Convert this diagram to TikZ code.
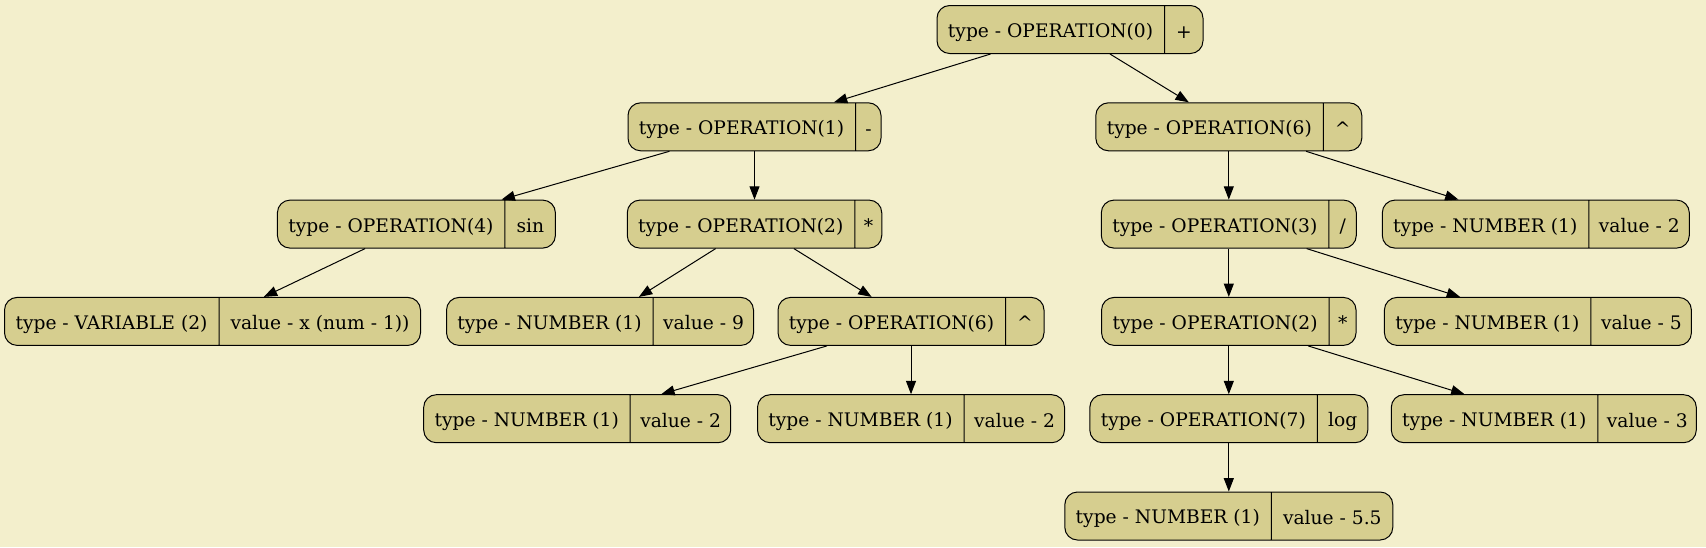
\documentclass[tikz,border=0pt]{standalone}
\usepackage{fontspec}
\setmainfont{DejaVu Serif}
\usetikzlibrary{shapes.multipart,arrows.meta}
\definecolor{bgyellow}{HTML}{F3EFCC}
\definecolor{nodekhaki}{HTML}{D6CE8F}
\newdimen\pxu \pxu=0.75pt
\newcommand{\fld}[2]{\makebox[#1\pxu]{\raisebox{-2.2pt}[\height][\depth]{\vphantom{()}#2}}}

\begin{document}
\begin{tikzpicture}[
            x=0.75pt, y=-0.75pt,
            rec/.style={draw, fill=nodekhaki, rounded corners=9.5pt, rectangle split, rectangle split horizontal, rectangle split parts=2, inner xsep=0pt, inner ysep=0pt, minimum height=36pt, line width=0.75pt, font=\fontsize{14}{16}\selectfont},
            edge/.style={-{Triangle[length=10pt,width=7.5pt]}, line width=0.75pt}
        ]
        \fill[bgyellow] (0,0) rectangle (1706,547);

        % Nodes
        \node[rec] (plus) at (1070,29.5) {\fld{227}{type - OPERATION(0)}\nodepart{two}\fld{38}{+}};
        \node[rec] (minus) at (754.5,126.8) {\fld{227}{type - OPERATION(1)}\nodepart{two}\fld{25}{-}};
        \node[rec] (powA) at (1228.8,126.8) {\fld{227}{type - OPERATION(6)}\nodepart{two}\fld{38}{\textasciicircum}};
        \node[rec] (sin) at (416.4,224.1) {\fld{227}{type - OPERATION(4)}\nodepart{two}\fld{50}{sin}};
        \node[rec] (mulA) at (754.5,224.1) {\fld{227}{type - OPERATION(2)}\nodepart{two}\fld{26.5}{*}};
        \node[rec] (div) at (1228.8,224.1) {\fld{227}{type - OPERATION(3)}\nodepart{two}\fld{27}{/}};
        \node[rec] (numTwoA) at (1535.8,224.1) {\fld{206}{type - NUMBER (1)}\nodepart{two}\fld{100}{value - 2}};
        \node[rec] (var) at (212.5,321.4) {\fld{214}{type - VARIABLE (2)}\nodepart{two}\fld{201}{value - x (num - 1))}};
        \node[rec] (numNine) at (600,321.4) {\fld{206}{type - NUMBER (1)}\nodepart{two}\fld{100}{value - 9}};
        \node[rec] (powB) at (911,321.4) {\fld{227}{type - OPERATION(6)}\nodepart{two}\fld{38}{\textasciicircum}};
        \node[rec] (mulB) at (1228.8,321.4) {\fld{227}{type - OPERATION(2)}\nodepart{two}\fld{26.5}{*}};
        \node[rec] (numFive) at (1537.9,321.4) {\fld{206}{type - NUMBER (1)}\nodepart{two}\fld{100}{value - 5}};
        \node[rec] (numTwoB) at (577.2,418.7) {\fld{206}{type - NUMBER (1)}\nodepart{two}\fld{100}{value - 2}};
        \node[rec] (numTwoC) at (911,418.7) {\fld{206}{type - NUMBER (1)}\nodepart{two}\fld{100}{value - 2}};
        \node[rec] (log) at (1228.8,418.7) {\fld{227}{type - OPERATION(7)}\nodepart{two}\fld{50}{log}};
        \node[rec] (numThree) at (1543.8,418.7) {\fld{206}{type - NUMBER (1)}\nodepart{two}\fld{98}{value - 3}};
        \node[rec] (numFiveFive) at (1228.8,516) {\fld{206}{type - NUMBER (1)}\nodepart{two}\fld{121}{value - 5.5}};

        % Arrows
        \draw[edge] (plus) -- (minus);
        \draw[edge] (plus) -- (powA);
        \draw[edge] (minus) -- (sin);
        \draw[edge] (minus) -- (mulA);
        \draw[edge] (powA) -- (div);
        \draw[edge] (powA) -- (numTwoA);
        \draw[edge] (sin) -- (var);
        \draw[edge] (mulA) -- (numNine);
        \draw[edge] (mulA) -- (powB);
        \draw[edge] (div) -- (mulB);
        \draw[edge] (div) -- (numFive);
        \draw[edge] (powB) -- (numTwoB);
        \draw[edge] (powB) -- (numTwoC);
        \draw[edge] (mulB) -- (log);
        \draw[edge] (mulB) -- (numThree);
        \draw[edge] (log) -- (numFiveFive);
\end{tikzpicture}
\end{document}
